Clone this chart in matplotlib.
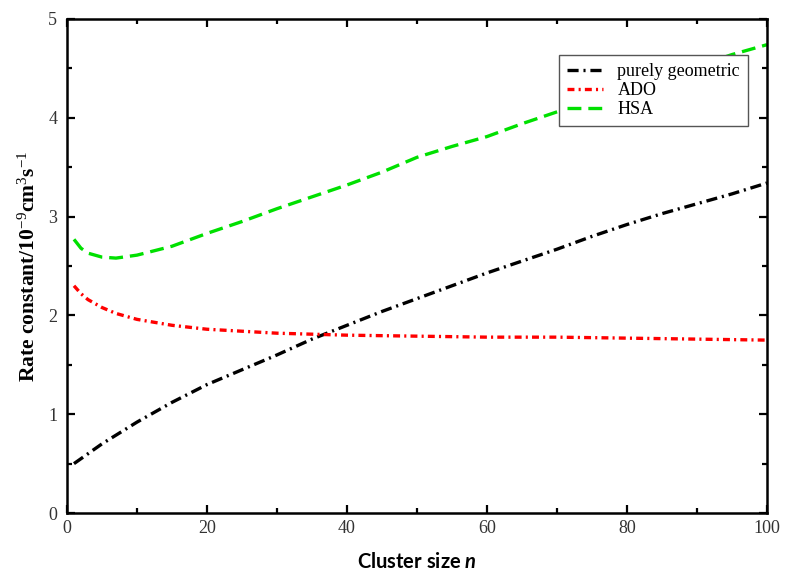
import numpy as np
import matplotlib
matplotlib.use('Agg')
import matplotlib.pyplot as plt
from matplotlib.ticker import MultipleLocator

# values
n_geo = [1, 5, 10, 15, 20, 25, 30, 35, 40, 45, 50, 55, 60, 65, 70, 75, 80, 85, 90, 95, 100]
k_geo = [0.50, 0.70, 0.92, 1.12, 1.30, 1.45, 1.60, 1.76, 1.90, 2.04, 2.17,
         2.30, 2.43, 2.55, 2.67, 2.80, 2.92, 3.03, 3.13, 3.23, 3.34]

n_ado = [1, 2, 3, 5, 7, 10, 15, 20, 25, 30, 40, 50, 60, 70, 80, 90, 100]
k_ado = [2.30, 2.22, 2.16, 2.08, 2.02, 1.96, 1.90, 1.86, 1.84, 1.82, 1.80,
         1.79, 1.78, 1.78, 1.77, 1.76, 1.75]

n_hsa = [1, 2, 3, 5, 7, 10, 15, 20, 25, 30, 35, 40, 45, 50, 55, 60, 65, 70,
         75, 80, 85, 90, 95, 100]
k_hsa = [2.77, 2.68, 2.63, 2.59, 2.58, 2.61, 2.70, 2.83, 2.95, 3.08, 3.20,
         3.32, 3.45, 3.60, 3.71, 3.81, 3.94, 4.06, 4.17, 4.29, 4.40, 4.52,
         4.64, 4.74]

plt.rcParams['lines.scale_dashes'] = False
plt.rcParams['mathtext.fontset'] = 'custom'
plt.rcParams['mathtext.rm'] = 'Liberation Serif'
plt.rcParams['mathtext.it'] = 'Liberation Serif:italic'
plt.rcParams['mathtext.bf'] = 'Liberation Serif:bold'
plt.rcParams['mathtext.bfit'] = 'Lato:italic:bold'

fig = plt.figure(figsize=(7.87, 5.72), dpi=100)
ax = fig.add_axes([0.0851, 0.1031, 0.8895, 0.8637])

ax.plot(n_geo, k_geo, color='black', lw=2.4, dashes=(8, 3.5, 1.5, 3.5),
        label='purely geometric')
ax.plot(n_ado, k_ado, color='#ff0000', lw=2.4, dashes=(5, 3, 1.5, 3),
        label='ADO')
ax.plot(n_hsa, k_hsa, color='#00e000', lw=2.4, dashes=(10, 5),
        label='HSA')

ax.set_xlim(0, 100)
ax.set_ylim(0, 5)
ax.xaxis.set_major_locator(MultipleLocator(20))
ax.xaxis.set_minor_locator(MultipleLocator(10))
ax.yaxis.set_major_locator(MultipleLocator(1))
ax.yaxis.set_minor_locator(MultipleLocator(0.5))
ax.tick_params(which='both', direction='in', top=True, right=True, width=1.6)
ax.tick_params(which='major', length=6, labelsize=13)
ax.tick_params(axis='y', which='major', pad=7)
ax.tick_params(axis='x', which='major', pad=5)
ax.tick_params(which='minor', length=3.5)
for lab in ax.get_xticklabels() + ax.get_yticklabels():
    lab.set_fontfamily('Liberation Serif')
    lab.set_color('#333333')
for sp in ax.spines.values():
    sp.set_linewidth(1.8)

ax.set_xlabel(r'Cluster size $\mathbfit{n}$', fontfamily='Lato', fontweight='bold',
              fontsize=14.5, labelpad=11)
ax.set_ylabel(r'Rate constant/10$^{-9}$cm$^{3}$s$^{-1}$', fontfamily='Liberation Serif',
              fontweight='bold', fontsize=15.5, labelpad=6)

leg = ax.legend(loc='upper right', bbox_to_anchor=(0.986, 0.945), fancybox=False,
                prop={'family': 'Liberation Serif', 'size': 13}, handlelength=2.0,
                borderpad=0.45, labelspacing=0.1, framealpha=1)
leg.get_frame().set_edgecolor('#555555')
leg.get_frame().set_linewidth(1.0)

fig.savefig('out.png', dpi=100)
